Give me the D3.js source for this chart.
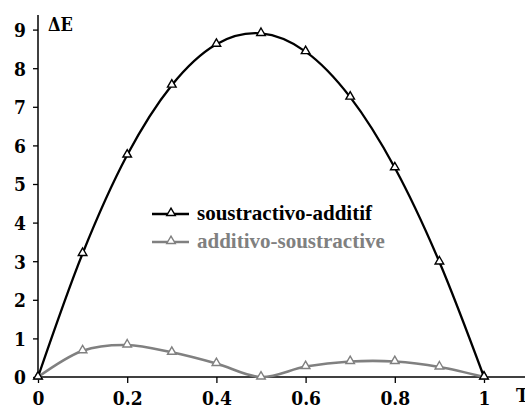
<!DOCTYPE html>
<html><head><meta charset="utf-8">
<script src="https://cdn.jsdelivr.net/npm/d3@7/dist/d3.min.js"></script>
<style>
html,body{margin:0;padding:0;background:#fff;}
svg{display:block;}
.tick text{font-family:"DejaVu Serif Condensed","DejaVu Serif",serif;font-weight:bold;font-size:19px;fill:#000;}
</style></head>
<body>
<svg id="c" width="525" height="405"></svg>
<script>
const xValues = [0, 0.1, 0.2, 0.3, 0.4, 0.5, 0.6, 0.7, 0.8, 0.9, 1];
const seriesNames = ["soustractivo-additif", "additivo-soustractive"];
const soustractivoAdditif = [0, 3.2, 5.75, 7.56, 8.62, 8.9, 8.43, 7.25, 5.42, 2.98, 0];
const additivoSoustractive = [0, 0.68, 0.83, 0.64, 0.35, 0, 0.27, 0.4, 0.4, 0.26, 0];
const xTicks = [0, 0.2, 0.4, 0.6, 0.8, 1];
const xTickLabels = ["0", "0.2", "0.4", "0.6", "0.8", "1"];
const yTicks = [0, 1, 2, 3, 4, 5, 6, 7, 8, 9];
const yLabel = "\u0394E";
const xLabel = "T";

const svg = d3.select("#c");
const x = d3.scaleLinear().domain([0, 1]).range([38, 484]);
const y = d3.scaleLinear().domain([0, 9]).range([377, 29.6]);
const labelFont = '"DejaVu Serif Condensed","DejaVu Serif",serif';

// axes
const yAxis = d3.axisLeft(y).tickValues(yTicks).tickFormat(d3.format("d")).tickSize(5).tickSizeOuter(0).tickPadding(7);
const gy = svg.append("g").attr("transform", `translate(${x(0)},0)`).call(yAxis);
gy.select(".domain").remove();
gy.selectAll(".tick line").attr("stroke", "#000").attr("stroke-width", 1.3);
gy.selectAll(".tick text").attr("dy", "0.36em");
svg.append("line").attr("x1", x(0)).attr("x2", x(0)).attr("y1", y(0)).attr("y2", 15)
  .attr("stroke", "#000").attr("stroke-width", 1.5);

const xAxis = d3.axisBottom(x).tickValues(xTicks).tickFormat((d, i) => xTickLabels[i]).tickSize(6).tickSizeOuter(0).tickPadding(9);
const gx = svg.append("g").attr("transform", `translate(0,${y(0)})`).call(xAxis);
gx.select(".domain").remove();
gx.selectAll(".tick line").attr("stroke", "#000").attr("stroke-width", 1.3);
svg.append("line").attr("x1", x(0)).attr("x2", 525).attr("y1", y(0)).attr("y2", y(0))
  .attr("stroke", "#000").attr("stroke-width", 1.5);

svg.append("text").attr("x", 48).attr("y", 31).text(yLabel)
  .attr("font-family", labelFont).attr("font-weight", "bold").attr("font-size", 18);
svg.append("text").attr("x", 516).attr("y", 402).text(xLabel)
  .attr("font-family", labelFont).attr("font-weight", "bold").attr("font-size", 19);

const series = [
  {name: seriesNames[0], values: soustractivoAdditif, color: "#000", width: 2.3},
  {name: seriesNames[1], values: additivoSoustractive, color: "#808080", width: 2.6}
];
const line = d3.line().x(d => x(d[0])).y(d => y(d[1])).curve(d3.curveCatmullRom.alpha(0));
const tri = d3.symbol().type(d3.symbolTriangle).size(32);

series.slice().reverse().forEach(s => {
  const pts = xValues.map((v, i) => [v, s.values[i]]);
  svg.append("path").datum(pts).attr("d", line).attr("fill", "none")
    .attr("stroke", s.color).attr("stroke-width", s.width).attr("stroke-linejoin", "round");
  svg.append("g").selectAll("path").data(pts).join("path")
    .attr("d", tri).attr("transform", d => `translate(${x(d[0])},${y(d[1]) - 0.5})`)
    .attr("fill", "#fff").attr("stroke", s.color).attr("stroke-width", 1.4);
});

// legend
const lg = svg.append("g");
series.forEach((s, i) => {
  const ly = 214 + i * 28;
  lg.append("line").attr("x1", 152).attr("x2", 189).attr("y1", ly).attr("y2", ly)
    .attr("stroke", s.color).attr("stroke-width", s.width);
  lg.append("path").attr("d", tri).attr("transform", `translate(171,${ly - 1})`)
    .attr("fill", "#fff").attr("stroke", s.color).attr("stroke-width", 1.4);
  lg.append("text").attr("x", 197).attr("y", ly + 6).text(s.name)
    .attr("font-family", '"Liberation Serif","Times New Roman",serif').attr("font-weight", "bold")
    .attr("font-size", 21).attr("fill", s.color);
});
</script>
</body></html>
